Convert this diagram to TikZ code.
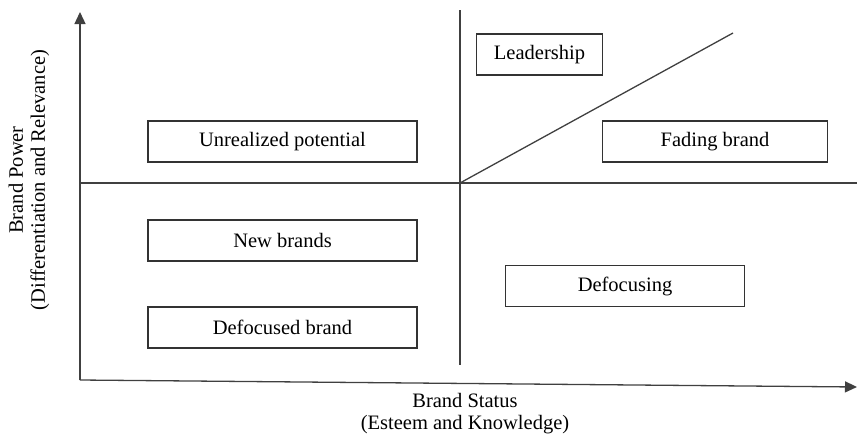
\documentclass[tikz,border=0pt]{standalone}
\usepackage{fontspec}
\setmainfont{Liberation Serif}
\usetikzlibrary{arrows.meta}

\begin{document}
\begin{tikzpicture}[x=1pt, y=-1pt, >={Triangle[width=11pt,length=12pt]}, line width=1.3pt]
    \tikzstyle{box}=[draw=black!80, fill=white, minimum height=41pt, inner sep=0pt, font=\fontsize{20.5}{23}\selectfont]
    \tikzstyle{axis}=[draw=black!75]
    \tikzstyle{lbl}=[align=center, inner sep=0pt, font=\fontsize{20.5}{22}\selectfont]
    \useasboundingbox (0,0) rectangle (857,437);
    % axes and quadrant lines
    \coordinate (o) at (80,380);
    \coordinate (ytip) at (80,12);
    \coordinate (xtip) at (857,387);
    \coordinate (top) at (460,10);
    \coordinate (bot) at (460,365);
    \coordinate (left) at (80,183);
    \coordinate (right) at (857,183);
    \coordinate (c) at (460,183);
    \coordinate (diag) at (733,33);
    \draw[axis, ->] (o) -- (ytip);
    \draw[axis, ->] (o) -- (xtip);
    \draw[axis] (top) -- (bot);
    \draw[axis] (left) -- (right);
    \draw[axis] (c) -- (diag);
    % quadrant boxes
    \node[box, minimum width=126pt] (lead) at (539.5,54.5) {Leadership};
    \node[box, minimum width=269pt] (unreal) at (282.5,141.5) {Unrealized potential};
    \node[box, minimum width=225pt] (fading) at (715,141.5) {Fading brand};
    \node[box, minimum width=269pt] (new) at (282.5,240.5) {New brands};
    \node[box, minimum width=269pt] (defocused) at (282.5,327.5) {Defocused brand};
    \node[box, minimum width=239pt] (defocusing) at (625,286) {Defocusing};
    % axis titles
    \node[lbl, rotate=90] (power) at (29,180) {Brand Power\\(Differentiation and Relevance)};
    \node[lbl] (status) at (465,414) {Brand Status\\(Esteem and Knowledge)};
\end{tikzpicture}
\end{document}
